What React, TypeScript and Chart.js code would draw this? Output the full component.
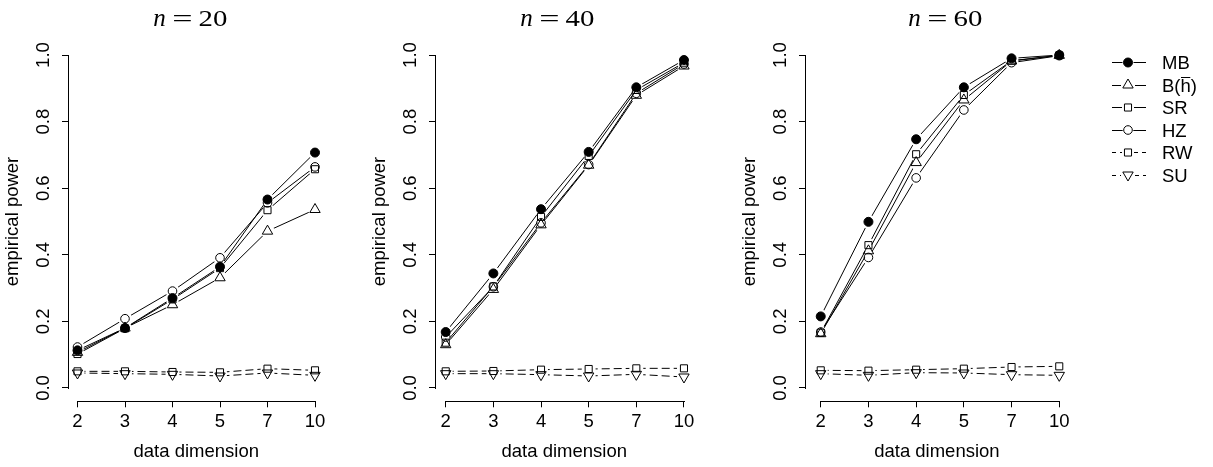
import React, { useEffect, useRef } from 'react';
import { Chart, registerables } from 'chart.js';
import { drawPoint } from 'chart.js/helpers';

Chart.register(...registerables);

// ---------- data ----------
const categories = ['2', '3', '4', '5', '7', '10'];
const yTicks = [0, 0.2, 0.4, 0.6, 0.8, 1.0];
const seriesNames = ['MB', 'B(h)', 'SR', 'HZ', 'RW', 'SU'];

// n = 20
const mb20 = [0.113, 0.18, 0.27, 0.364, 0.566, 0.707];
const b20 = [0.107, 0.18, 0.25, 0.331, 0.471, 0.536];
const sr20 = [0.102, 0.179, 0.266, 0.36, 0.534, 0.657];
const hz20 = [0.123, 0.208, 0.291, 0.391, 0.556, 0.664];
const rw20 = [0.05, 0.05, 0.048, 0.047, 0.058, 0.053];
const su20 = [0.045, 0.043, 0.041, 0.036, 0.045, 0.038];

// n = 40
const mb40 = [0.168, 0.344, 0.537, 0.709, 0.903, 0.985];
const b40 = [0.13, 0.296, 0.49, 0.669, 0.879, 0.967];
const sr40 = [0.136, 0.305, 0.514, 0.697, 0.895, 0.977];
const hz40 = [0.153, 0.304, 0.496, 0.671, 0.885, 0.973];
const rw40 = [0.05, 0.051, 0.055, 0.057, 0.059, 0.059];
const su40 = [0.043, 0.043, 0.04, 0.036, 0.041, 0.033];

// n = 60
const mb60 = [0.215, 0.499, 0.747, 0.903, 0.99, 1.0];
const b60 = [0.163, 0.412, 0.677, 0.865, 0.982, 0.999];
const sr60 = [0.166, 0.429, 0.702, 0.88, 0.983, 0.999];
const hz60 = [0.168, 0.392, 0.631, 0.835, 0.977, 0.998];
const rw60 = [0.053, 0.052, 0.055, 0.058, 0.063, 0.065];
const su60 = [0.043, 0.038, 0.046, 0.045, 0.04, 0.038];

// ---------- styles / layout ----------
const FONT = '"Liberation Sans", Arial, sans-serif';
const SERIF = '"Liberation Serif", "Times New Roman", serif';
const FS = 18.5;
const GAP = 7;

const styles = [
  { pointStyle: 'circle', r: 4.5, filled: true, rot: 0, dash: [] as number[] },
  { pointStyle: 'triangle', r: 6, filled: false, rot: 0, dash: [] as number[] },
  { pointStyle: 'rect', r: 5, filled: false, rot: 0, dash: [] as number[] },
  { pointStyle: 'circle', r: 4.3, filled: false, rot: 0, dash: [] as number[] },
  { pointStyle: 'rect', r: 5, filled: false, rot: 0, dash: [8, 4] },
  { pointStyle: 'triangle', r: 6, filled: false, rot: 180, dash: [8, 4] },
];

const panels = [
  { n: '20', series: [mb20, b20, sr20, hz20, rw20, su20], left: 0, width: 367, padRight: 42.5, xMin: -0.2, titleX: 190, legend: false },
  { n: '40', series: [mb40, b40, sr40, hz40, rw40, su40], left: 367, width: 370, padRight: 43.5, xMin: -0.225, titleX: 190, legend: false },
  { n: '60', series: [mb60, b60, sr60, hz60, rw60, su60], left: 737, width: 476, padRight: 144.2, xMin: -0.33, titleX: 208, legend: true },
];

const align = (v: number) => Math.round(v - 0.5) + 0.5;

const gapPlugin = {
  id: 'gapClip',
  beforeDatasetDraw(chart: any, args: any) {
    const ds = chart.data.datasets[args.index];
    if (!ds.isLine) return;
    const ctx = chart.ctx;
    ctx.save();
    ctx.beginPath();
    ctx.rect(0, 0, chart.width, chart.height);
    args.meta.data.forEach((p: any) => {
      ctx.moveTo(p.x + GAP, p.y);
      ctx.arc(p.x, p.y, GAP, 0, Math.PI * 2);
    });
    ctx.clip('evenodd');
  },
  afterDatasetDraw(chart: any, args: any) {
    const ds = chart.data.datasets[args.index];
    if (!ds.isLine) return;
    chart.ctx.restore();
  },
};

const axisPlugin = {
  id: 'rAxes',
  afterDraw(chart: any) {
    const { ctx, chartArea } = chart;
    const x = chart.scales.x;
    const y = chart.scales.y;
    ctx.save();
    ctx.strokeStyle = '#000';
    ctx.lineWidth = 1;
    ctx.setLineDash([]);
    ctx.beginPath();
    const ax = align(chartArea.left);
    ctx.moveTo(ax, Math.round(y.getPixelForValue(yTicks[0])) + 1);
    ctx.lineTo(ax, Math.round(y.getPixelForValue(yTicks[yTicks.length - 1])));
    const ay = align(chartArea.bottom);
    ctx.moveTo(Math.round(x.getPixelForValue(0)), ay);
    ctx.lineTo(Math.round(x.getPixelForValue(categories.length - 1)) + 1, ay);
    ctx.stroke();
    ctx.restore();
  },
};

function makeTitlePlugin(n: string, cx: number) {
  return {
    id: 'mathTitle',
    afterDraw(chart: any) {
      const ctx = chart.ctx;
      ctx.save();
      ctx.fillStyle = '#000';
      ctx.textAlign = 'center';
      ctx.textBaseline = 'alphabetic';
      ctx.font = `italic 25px ${SERIF}`;
      ctx.fillText('n', cx - 30.5, 26);
      ctx.font = `24px ${SERIF}`;
      ctx.save();
      ctx.translate(cx - 7.5, 26);
      ctx.scale(1.5, 1);
      ctx.fillText('=', 0, 0);
      ctx.restore();
      ctx.save();
      ctx.translate(cx + 23, 26);
      ctx.scale(1.2, 1);
      ctx.fillText(n, 0, 0);
      ctx.restore();
      ctx.restore();
    },
  };
}

const legendPlugin = {
  id: 'rLegend',
  afterDraw(chart: any) {
    const ctx = chart.ctx;
    const x0 = 375, x1 = 409, xm = 391, xt = 425;
    ctx.save();
    seriesNames.forEach((name, i) => {
      const st = styles[i];
      const yy = 62.5 + 22.5 * i;
      ctx.strokeStyle = '#000';
      ctx.lineWidth = 1;
      ctx.setLineDash(st.dash.length ? [4, 4] : []);
      ctx.beginPath();
      ctx.moveTo(x0, align(yy));
      ctx.lineTo(xm - st.r - 1, align(yy));
      ctx.moveTo(xm + st.r + 1, align(yy));
      ctx.lineTo(x1, align(yy));
      ctx.stroke();
      ctx.setLineDash([]);
      ctx.fillStyle = st.filled ? '#000' : 'rgba(0,0,0,0)';
      drawPoint(ctx, { pointStyle: st.pointStyle, radius: st.r, rotation: st.rot, borderWidth: 1 } as any, xm, yy);
      ctx.fillStyle = '#000';
      ctx.font = `${FS}px ${FONT}`;
      ctx.textAlign = 'left';
      ctx.textBaseline = 'alphabetic';
      const base = yy + 6.6;
      ctx.fillText(name, xt, base);
      if (name === 'B(h)') {
        const wB = ctx.measureText('B(').width;
        const wh = ctx.measureText('h').width;
        ctx.beginPath();
        ctx.moveTo(xt + wB + 0.5, Math.round(base - 15) + 0.5);
        ctx.lineTo(xt + wB + wh - 0.5, Math.round(base - 15) + 0.5);
        ctx.stroke();
      }
    });
    ctx.restore();
  },
};

function Panel({ cfg }: { cfg: typeof panels[number] }) {
  const ref = useRef<HTMLCanvasElement>(null);
  useEffect(() => {
    if (!ref.current) return;
    const datasets: any[] = [];
    cfg.series.forEach((vals, k) => {
      const st = styles[k];
      const pts = vals.map((v, i) => ({ x: i, y: v }));
      datasets.push({
        label: seriesNames[k] + ' line',
        isLine: true,
        data: pts,
        borderColor: '#000',
        borderWidth: 1,
        borderDash: st.dash,
        pointRadius: 0,
        pointHoverRadius: 0,
        fill: false,
        tension: 0,
      });
      datasets.push({
        label: seriesNames[k],
        data: pts,
        showLine: false,
        pointStyle: st.pointStyle,
        pointRadius: st.r,
        pointHoverRadius: st.r,
        pointRotation: st.rot,
        pointBorderColor: '#000',
        pointBackgroundColor: st.filled ? '#000' : 'rgba(0,0,0,0)',
        pointBorderWidth: 1,
      });
    });
    const plugins: any[] = [gapPlugin, axisPlugin, makeTitlePlugin(cfg.n, cfg.titleX)];
    if (cfg.legend) plugins.push(legendPlugin);
    const chart = new Chart(ref.current, {
      type: 'line',
      data: { datasets },
      options: {
        animation: false,
        responsive: false,
        maintainAspectRatio: false,
        events: [],
        layout: { padding: { top: 41.7, right: cfg.padRight, bottom: 0, left: 0 } },
        plugins: { legend: { display: false }, tooltip: { enabled: false }, title: { display: false } },
        scales: {
          x: {
            type: 'linear',
            min: cfg.xMin,
            max: 5.2,
            afterBuildTicks: (s: any) => { s.ticks = categories.map((_, i) => ({ value: i })); },
            afterFit: (s: any) => { s.height = 65.7; },
            border: { display: false },
            grid: { drawOnChartArea: false, drawTicks: true, tickLength: 6, color: '#000', lineWidth: 1 },
            ticks: {
              autoSkip: false, minRotation: 0, maxRotation: 0, padding: 3.3, color: '#000',
              font: { family: FONT, size: FS },
              callback: (_v: any, i: number) => categories[i],
            },
            title: { display: true, text: 'data dimension', color: '#000', font: { family: FONT, size: FS }, padding: { top: 0, bottom: 3.9 } },
          },
          y: {
            type: 'linear',
            min: -0.04,
            max: 1.04,
            afterBuildTicks: (s: any) => { s.ticks = yTicks.map((v) => ({ value: v })); },
            afterFit: (s: any) => { s.width = 68; },
            border: { display: false },
            grid: { drawOnChartArea: false, drawTicks: true, tickLength: 6, color: '#000', lineWidth: 1 },
            ticks: {
              autoSkip: false, minRotation: 90, maxRotation: 90, crossAlign: 'center', padding: 5, color: '#000',
              font: { family: FONT, size: FS },
              callback: (v: any) => Number(v).toFixed(1),
            },
            title: { display: true, text: 'empirical power', color: '#000', font: { family: FONT, size: FS }, padding: { top: 2.2, bottom: 0 } },
          },
        },
      } as any,
      plugins,
    });
    return () => chart.destroy();
  }, [cfg]);
  return (
    <canvas
      ref={ref}
      width={cfg.width}
      height={467}
      style={{ position: 'absolute', left: cfg.left, top: 0, width: cfg.width, height: 467 }}
    />
  );
}

export default function App() {
  return (
    <div style={{ position: 'absolute', left: 0, top: 0, width: 1213, height: 467, background: '#fff', overflow: 'hidden' }}>
      {panels.map((p) => (
        <Panel key={p.n} cfg={p} />
      ))}
    </div>
  );
}
